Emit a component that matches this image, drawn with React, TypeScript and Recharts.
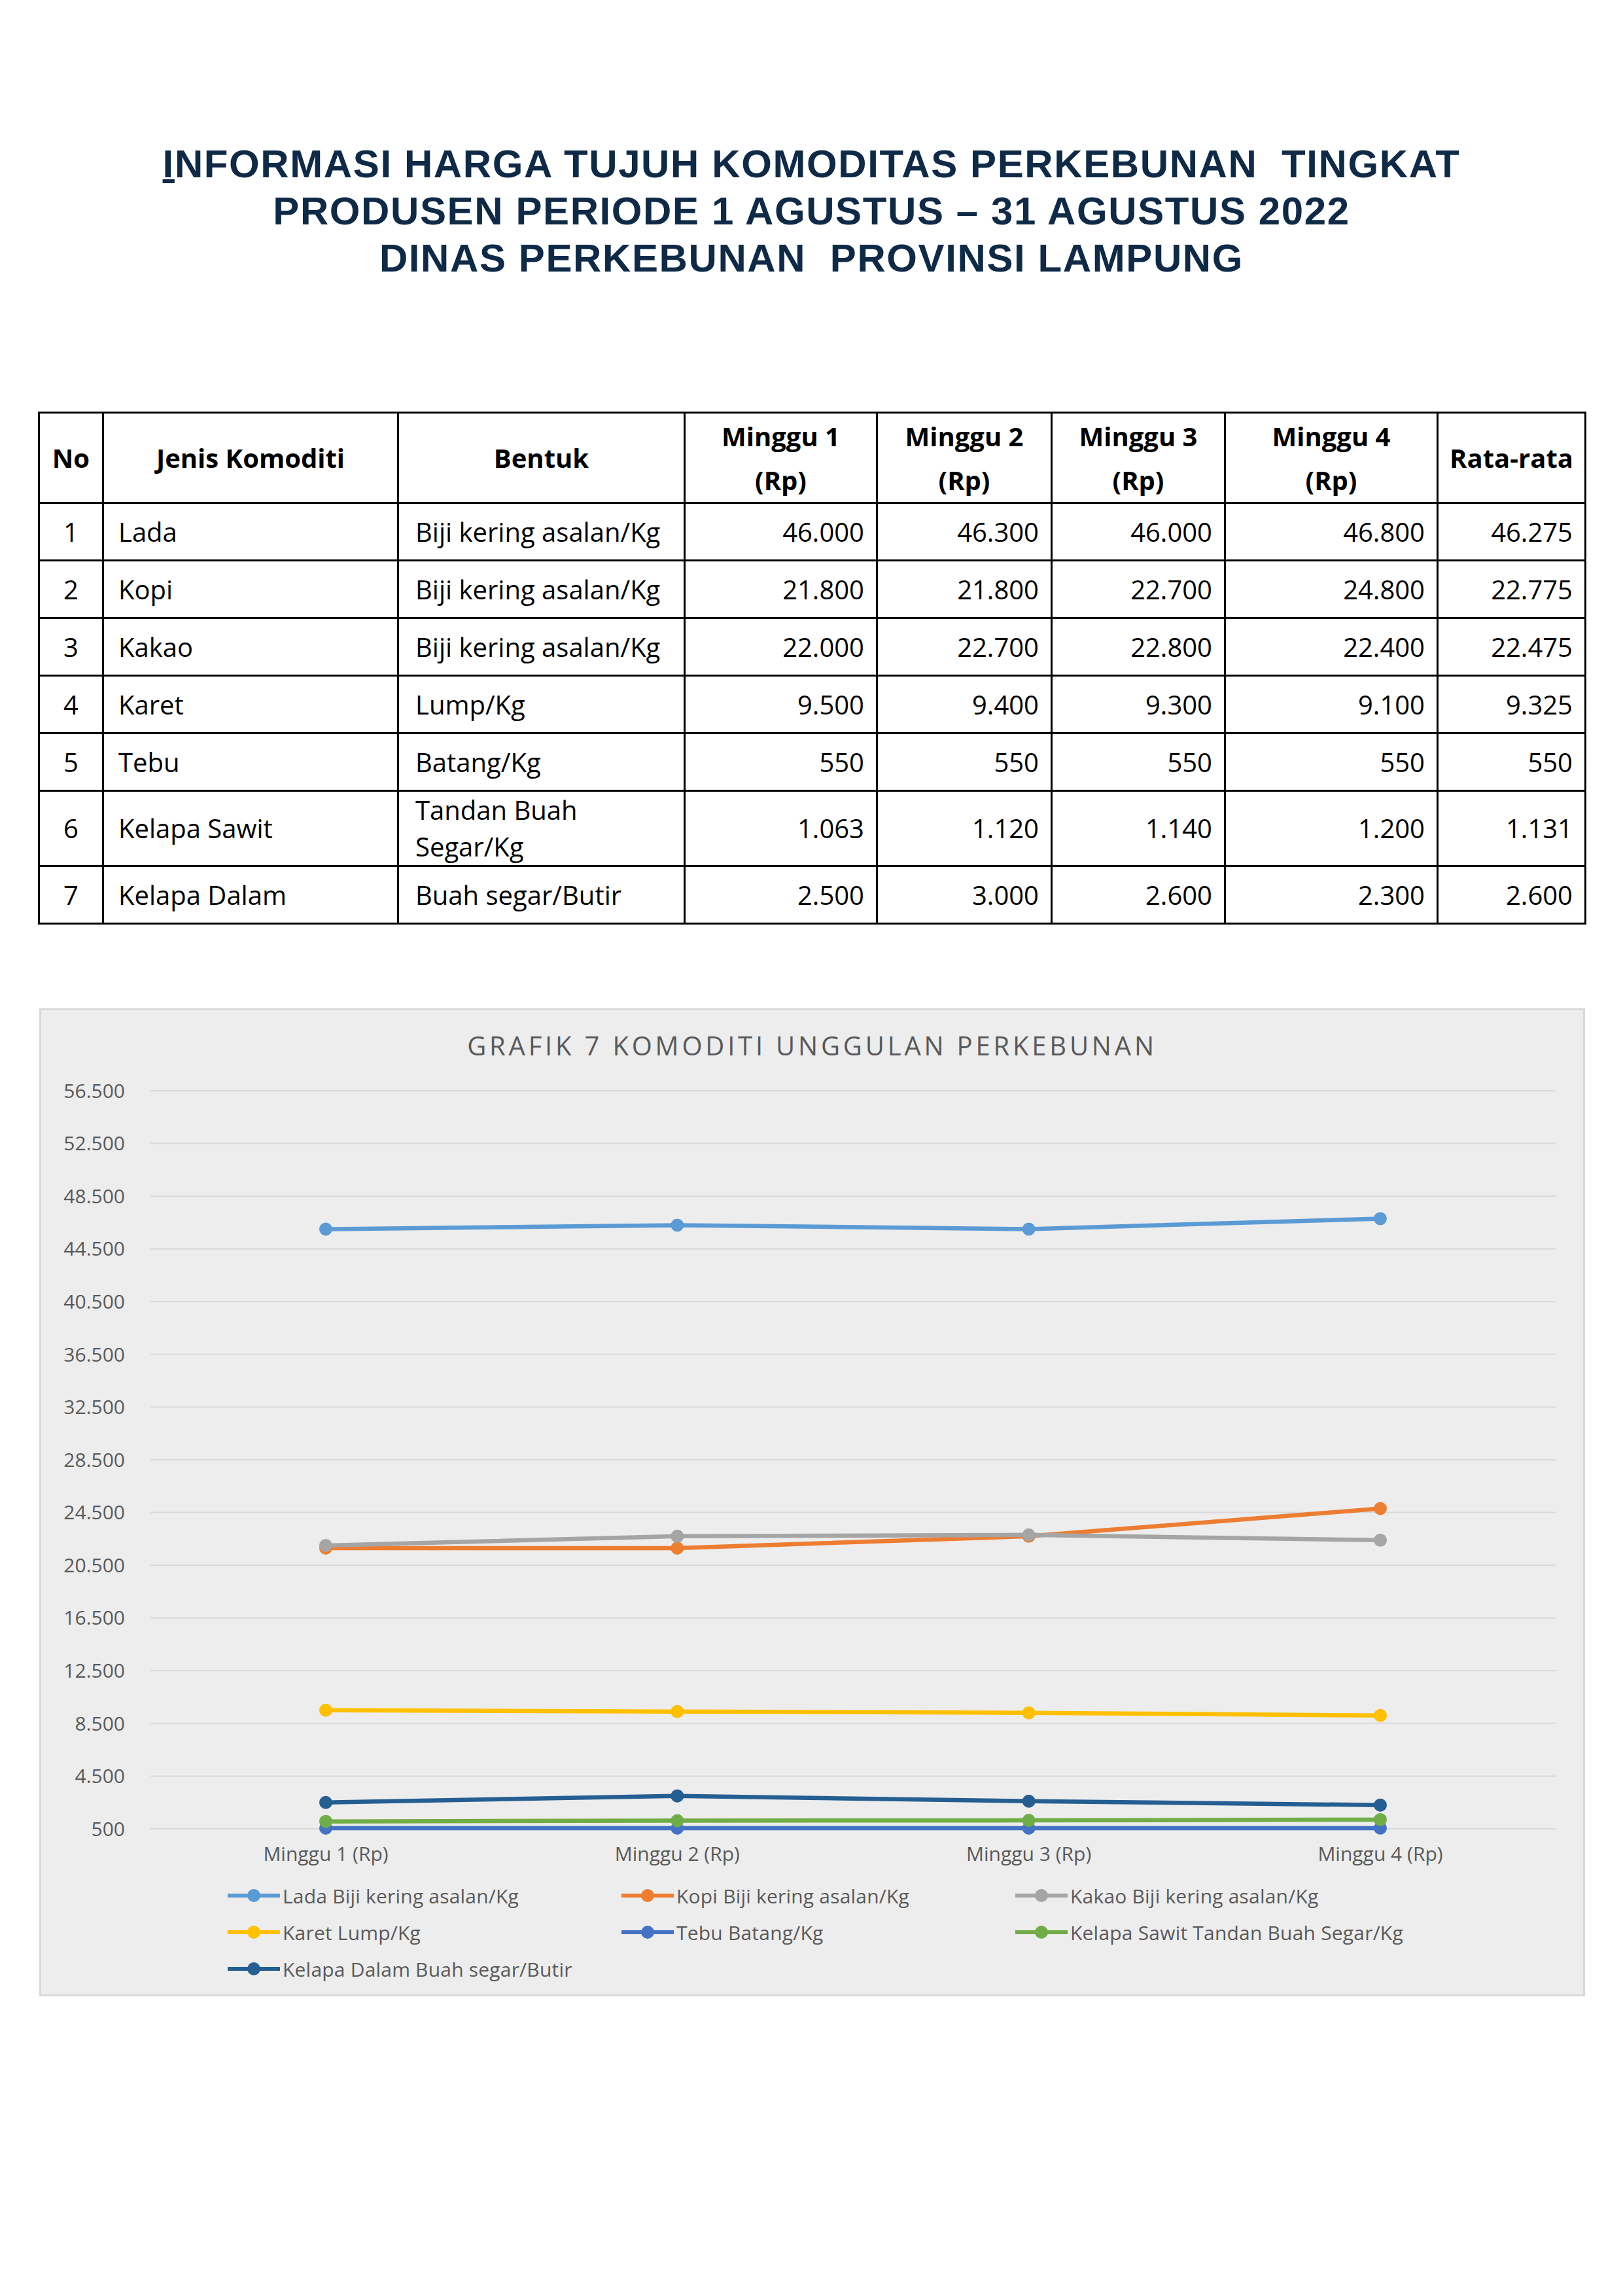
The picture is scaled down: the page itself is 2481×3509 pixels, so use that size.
import React from 'react'
import { LineChart, Line, XAxis, YAxis, CartesianGrid, Legend } from 'recharts'

// Harga komoditas perkebunan tingkat produsen, Agustus 2022 (Rp)
const weeks = ['Minggu 1 (Rp)', 'Minggu 2 (Rp)', 'Minggu 3 (Rp)', 'Minggu 4 (Rp)']
const commodities = ['Lada', 'Kopi', 'Kakao', 'Karet', 'Tebu', 'Kelapa Sawit', 'Kelapa Dalam']
const forms = [
  'Biji kering asalan/Kg',
  'Biji kering asalan/Kg',
  'Biji kering asalan/Kg',
  'Lump/Kg',
  'Batang/Kg',
  'Tandan Buah Segar/Kg',
  'Buah segar/Butir',
]
const lada = [46000, 46300, 46000, 46800]
const kopi = [21800, 21800, 22700, 24800]
const kakao = [22000, 22700, 22800, 22400]
const karet = [9500, 9400, 9300, 9100]
const tebu = [550, 550, 550, 550]
const kelapaSawit = [1063, 1120, 1140, 1200]
const kelapaDalam = [2500, 3000, 2600, 2300]
const averages = [46275, 22775, 22475, 9325, 550, 1131, 2600]
const yTicks = [500, 4500, 8500, 12500, 16500, 20500, 24500, 28500, 32500, 36500, 40500, 44500, 48500, 52500, 56500]
const seriesColors = ['#5B9BD5', '#ED7D31', '#A5A5A5', '#FFC000', '#4472C4', '#70AD47', '#255E91']

const seriesValues = [lada, kopi, kakao, karet, tebu, kelapaSawit, kelapaDalam]
const series = commodities.map((c, i) => ({
  key: `s${i}`,
  name: `${c} ${forms[i]}`,
  color: seriesColors[i],
  values: seriesValues[i],
}))
const chartData = weeks.map((w, wi) => {
  const row: Record<string, string | number> = { week: w }
  series.forEach((s) => (row[s.key] = s.values[wi]))
  return row
})

const fmt = (v: number) => String(v).replace(/\B(?=(\d{3})+(?!\d))/g, '.')

const TEXT = '#595959'
const chartFont = 'Open Sans'
const colWidths = [98, 451, 438, 294, 267, 265, 325, 226]
const cellBorder = '3px solid #000'

function ChartLegend() {
  return (
    <div
      style={{
        display: 'grid',
        gridTemplateColumns: '602px 602px 602px',
        gridAutoRows: '56px',
        paddingLeft: 285,
        fontFamily: chartFont,
        fontSize: 30,
        color: TEXT,
      }}
    >
      {series.map((s) => (
        <div key={s.key} style={{ display: 'flex', alignItems: 'center', whiteSpace: 'nowrap' }}>
          <svg width={80} height={24} style={{ marginRight: 4 }}>
            <line x1={0} y1={12} x2={80} y2={12} stroke={s.color} strokeWidth={6} />
            <circle cx={40} cy={12} r={10} fill={s.color} />
          </svg>
          <span style={{ letterSpacing: 0.2 }}>{s.name}</span>
        </div>
      ))}
    </div>
  )
}

function PriceTable() {
  const head = ['No', 'Jenis Komoditi', 'Bentuk', ...weeks, 'Rata-rata']
  const cell: React.CSSProperties = {
    border: cellBorder,
    padding: '0 20px',
    fontFamily: chartFont,
    fontSize: 40,
    lineHeight: '56px',
    color: '#000',
  }
  return (
    <table
      style={{
        position: 'absolute',
        left: 58,
        top: 629,
        width: 2365,
        borderCollapse: 'collapse',
        tableLayout: 'fixed',
      }}
    >
      <colgroup>
        {colWidths.map((w, i) => (
          <col key={i} style={{ width: w }} />
        ))}
      </colgroup>
      <thead>
        <tr style={{ height: 138 }}>
          {head.map((h, i) => (
            <th key={i} style={{ ...cell, fontWeight: 700, textAlign: 'center', lineHeight: '67px', padding: 0 }}>
              {h.endsWith(' (Rp)') ? (
                <>
                  {h.replace(' (Rp)', '')}
                  <br />
                  (Rp)
                </>
              ) : (
                h
              )}
            </th>
          ))}
        </tr>
      </thead>
      <tbody>
        {commodities.map((c, i) => (
          <tr key={c} style={{ height: 88 }}>
            <td style={{ ...cell, textAlign: 'center', padding: 0 }}>{i + 1}</td>
            <td style={{ ...cell, paddingLeft: 22 }}>{c}</td>
            <td style={{ ...cell, paddingLeft: 25, paddingRight: 25 }}>{forms[i]}</td>
            {seriesValues[i].map((v, j) => (
              <td key={j} style={{ ...cell, textAlign: 'right', paddingRight: 18 }}>
                {fmt(v)}
              </td>
            ))}
            <td style={{ ...cell, textAlign: 'right', paddingRight: 18 }}>{fmt(averages[i])}</td>
          </tr>
        ))}
      </tbody>
    </table>
  )
}

export default function App() {
  return (
    <div style={{ position: 'absolute', left: 0, top: 0, width: 2481, height: 3509, background: '#fff' }}>
      <div
        style={{
          position: 'absolute',
          left: 0,
          width: 2481,
          top: 215,
          textAlign: 'center',
          fontFamily: 'Liberation Sans',
          fontWeight: 700,
          fontSize: 60,
          lineHeight: '72px',
          letterSpacing: 1.6,
          color: '#0E2A47',
          whiteSpace: 'pre',
        }}
      >
        <span style={{ textDecoration: 'underline' }}>I</span>
        {'NFORMASI HARGA TUJUH KOMODITAS PERKEBUNAN  TINGKAT'}
        <br />
        PRODUSEN PERIODE 1 AGUSTUS – 31 AGUSTUS 2022
        <br />
        DINAS PERKEBUNAN  PROVINSI LAMPUNG
      </div>

      <PriceTable />

      <div
        style={{
          position: 'absolute',
          left: 60,
          top: 1541,
          width: 2363,
          height: 1510,
          boxSizing: 'border-box',
          border: '3px solid #D9D9D9',
          background: '#EDEDED',
        }}
      >
        <div
          style={{
            position: 'absolute',
            left: 0,
            right: 0,
            top: 26,
            textAlign: 'center',
            fontFamily: chartFont,
            fontSize: 40,
            letterSpacing: 4.8,
            color: TEXT,
            whiteSpace: 'nowrap',
          }}
        >
          GRAFIK 7 KOMODITI UNGGULAN PERKEBUNAN
        </div>
        <LineChart width={2357} height={1504} data={chartData} margin={{ top: 123, right: 42, bottom: 193, left: 0 }}>
          <CartesianGrid vertical={false} stroke="#D9D9D9" strokeWidth={2} />
          <XAxis
            dataKey="week"
            axisLine={false}
            tickLine={false}
            tickSize={0}
            tickMargin={28}
            height={60}
            interval={0}
            padding={{ left: 268, right: 268 }}
            tick={{ fontSize: 30, fill: TEXT, fontFamily: chartFont }}
          />
          <YAxis
            type="number"
            domain={[500, 56500]}
            ticks={yTicks}
            interval={0}
            width={167}
            axisLine={false}
            tickLine={false}
            tickSize={0}
            tickMargin={39}
            tickFormatter={fmt}
            tick={{ fontSize: 30, fill: TEXT, fontFamily: chartFont }}
          />
          {series.map((s) => (
            <Line
              key={s.key}
              dataKey={s.key}
              name={s.name}
              type="linear"
              stroke={s.color}
              strokeWidth={6.5}
              dot={{ r: 10, fill: s.color, stroke: s.color, strokeWidth: 0 }}
              activeDot={false}
              isAnimationActive={false}
            />
          ))}
          <Legend
            layout="horizontal"
            verticalAlign="middle"
            align="center"
            content={() => <ChartLegend />}
            wrapperStyle={{ left: 0, top: 1325, width: 2357 }}
          />
        </LineChart>
      </div>
    </div>
  )
}
